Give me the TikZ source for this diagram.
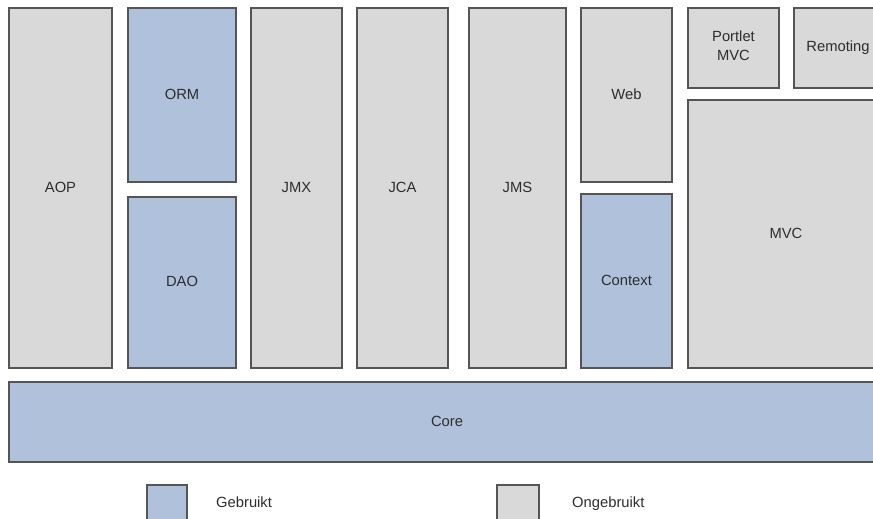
\documentclass[tikz,border=0pt]{standalone}
\usepackage{fontspec}
\setmainfont{Liberation Sans}
\usetikzlibrary{positioning, fit}
\definecolor{usedblue}{RGB}{176,194,219}
\definecolor{unusedgray}{RGB}{217,217,217}
\definecolor{boxline}{RGB}{85,85,85}
\definecolor{labeltext}{RGB}{45,45,45}

\tikzset{
  modbox/.style={draw=boxline, line width=0.8pt, inner sep=0pt},
  usedbox/.style={modbox, fill=usedblue},
  unusedbox/.style={modbox, fill=unusedgray},
  keytext/.style={text=labeltext, font=\fontsize{8.4}{10.8}\selectfont, align=center},
  modtext/.style={keytext, yshift=0.4pt}
}

\begin{document}
\begin{tikzpicture}[x=0.02cm, y=-0.02cm]
  \clip (0,0) rectangle (873,519);
  \fill[white] (0,0) rectangle (873,519);
  % kolommen
  \node[unusedbox, fit={(9,8)(112,368)}, label={[modtext]center:AOP}] (aop) {};
  \node[usedbox, fit={(128,8)(236,182)}, label={[modtext]center:ORM}] (orm) {};
  \node[usedbox, fit={(128,197)(236,368)}, label={[modtext]center:DAO}] (dao) {};
  \node[unusedbox, fit={(251,8)(342,368)}, label={[modtext]center:JMX}] (jmx) {};
  \node[unusedbox, fit={(357,8)(448,368)}, label={[modtext]center:JCA}] (jca) {};
  \node[unusedbox, fit={(469,8)(566,368)}, label={[modtext]center:JMS}] (jms) {};
  \node[unusedbox, fit={(581,8)(672,182)}, label={[modtext]center:Web}] (web) {};
  \node[usedbox, fit={(581,194)(672,368)}, label={[modtext]center:Context}] (context) {};
  \node[unusedbox, fit={(688,8)(779,88)}, label={[modtext, yshift=0.8pt]center:Portlet\\MVC}] (portlet) {};
  \node[unusedbox, fit={(794,8)(882,88)}, label={[modtext]center:Remoting}] (remoting) {};
  \node[unusedbox, fit={(688,100)(884,368)}, label={[modtext]center:MVC}] (mvc) {};
  % basis
  \node[usedbox, fit={(9,382)(885,462)}, label={[modtext]center:Core}] (core) {};
  % legenda
  \node[usedbox, fit={(147,485)(187,535)}] (usedkey) {};
  \node[unusedbox, fit={(497,485)(539,535)}] (unusedkey) {};
  \node[anchor=base west, keytext] (usedlabel) at (210,508) {Gebruikt};
  \node[anchor=base west, keytext] (unusedlabel) at (566,508) {Ongebruikt};
\end{tikzpicture}
\end{document}
